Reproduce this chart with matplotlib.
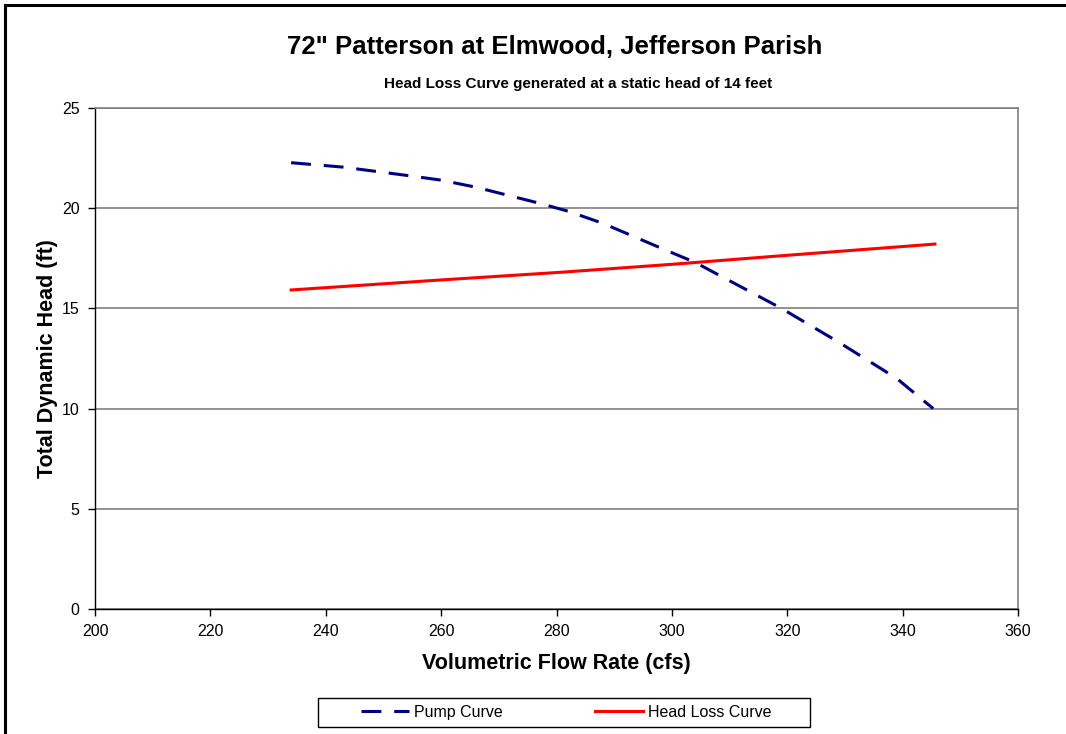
import matplotlib.pyplot as plt
from matplotlib.patches import Rectangle

plt.rcParams['font.family'] = ['Liberation Sans', 'DejaVu Sans']

# pump curve
pump_q = [234, 243, 255, 260, 266, 277, 282, 288, 299, 304, 319, 329, 339, 345.3]
pump_h = [22.27, 22.05, 21.6, 21.4, 21.05, 20.25, 19.85, 19.25, 17.9, 17.3, 15.0, 13.3, 11.5, 10.0]

# head loss curve (static head 14 ft)
loss_q = [234, 260, 280.6, 300, 320, 345.6]
loss_h = [15.92, 16.42, 16.8, 17.2, 17.65, 18.21]

x_ticks = [200, 220, 240, 260, 280, 300, 320, 340, 360]
y_ticks = [0, 5, 10, 15, 20, 25]

fig = plt.figure(figsize=(10.66, 7.34), dpi=100)
ax = fig.add_axes([95/1066, 1 - 609/734, 923/1066, 501/734])

# outer chart border (Excel chart area)
fig.patches.append(Rectangle((5/1066, -0.05), 1.1, 1 - 5/734 + 0.05, transform=fig.transFigure,
                             fill=False, edgecolor='black', linewidth=2.2))

ax.plot(pump_q, pump_h, color='#000080', linewidth=2.2, dashes=(6.5, 4.2), label='Pump Curve')
ax.plot(loss_q, loss_h, color='#ff0000', linewidth=2.2, label='Head Loss Curve')

ax.set_xlim(200, 360)
ax.set_ylim(0, 25)
ax.set_xticks(x_ticks)
ax.set_yticks(y_ticks)
ax.yaxis.grid(True, color='#808080', linewidth=1.2)
ax.set_axisbelow(True)

for s in ['top', 'right']:
    ax.spines[s].set_color('#808080')
    ax.spines[s].set_linewidth(1.2)
for s in ['left', 'bottom']:
    ax.spines[s].set_color('black')
    ax.spines[s].set_linewidth(1.0)

ax.tick_params(direction='out', length=5, width=1, labelsize=11.5, pad=6)

ax.set_xlabel('Volumetric Flow Rate (cfs)', fontsize=15.5, fontweight='bold', labelpad=10)
ax.set_ylabel('Total Dynamic Head (ft)', fontsize=15.5, fontweight='bold', labelpad=3)

fig.text(555/1066, 1 - 47/734, '72" Patterson at Elmwood, Jefferson Parish',
         ha='center', va='center', fontsize=18.5, fontweight='bold')
fig.text(578/1066, 1 - 84/734, 'Head Loss Curve generated at a static head of 14 feet',
         ha='center', va='center', fontsize=11, fontweight='bold')

# legend box
fig.patches.append(Rectangle((318/1066, 1 - 727/734), 492/1066, 29/734, transform=fig.transFigure,
                             fill=False, edgecolor='black', linewidth=1.0))
leg = fig.legend(loc='center', bbox_to_anchor=(566/1066, 1 - 712.5/734), ncol=2, frameon=False,
                 fontsize=11.5, handlelength=3.0, handletextpad=0.3, columnspacing=5.8)

fig.savefig('out.png', dpi=100)
